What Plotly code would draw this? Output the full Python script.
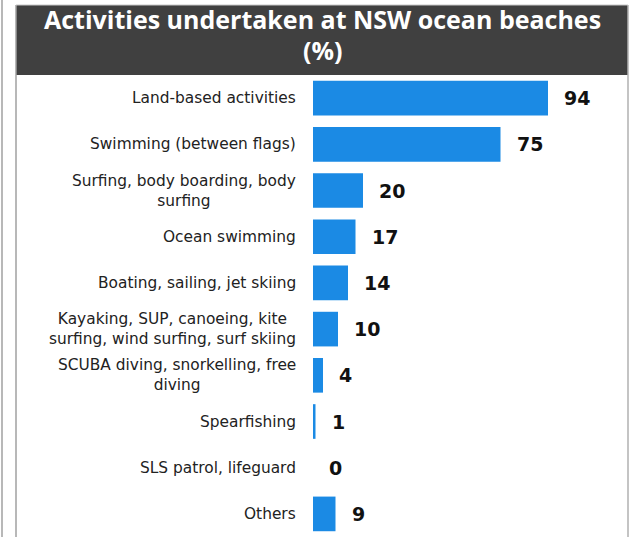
import plotly.graph_objects as go

categories = [
    "Land-based activities",
    "Swimming (between flags)",
    "Surfing, body boarding, body<br>surfing",
    "Ocean swimming",
    "Boating, sailing, jet skiing",
    "Kayaking, SUP, canoeing, kite<br>surfing, wind surfing, surf skiing",
    "SCUBA diving, snorkelling, free<br>diving",
    "Spearfishing",
    "SLS patrol, lifeguard",
    "Others",
]
values = [94, 75, 20, 17, 14, 10, 4, 1, 0, 9]
title_lines = ["Activities undertaken at NSW ocean beaches", "(%)"]

W, H = 641, 537
L, R, T, B = 313, 13, 75, 0
pw, ph = W - L - R, H - T - B

def px_x(p):
    return (p - L) / pw

def px_y(p):
    return (H - B - p) / ph

fig = go.Figure()
fig.add_trace(go.Bar(
    x=values, y=list(range(len(categories))), orientation="h",
    marker=dict(color="#1b8ae4", line=dict(width=0)),
    width=0.75, hoverinfo="skip",
))

annotations = []
for i, (c, v) in enumerate(zip(categories, values)):
    annotations.append(dict(
        x=0, y=i, xref="x", yref="y", text=c, showarrow=False,
        xanchor="right", yanchor="middle", align="center", xshift=-15,
        font=dict(family="DejaVu Sans", size=15.4, color="#222222"),
    ))
    annotations.append(dict(
        x=v, y=i, xref="x", yref="y", text="<b>%d</b>" % v, showarrow=False,
        xanchor="left", yanchor="middle", xshift=14,
        font=dict(family="DejaVu Sans", size=19, color="#111111"),
    ))
for line, ypx in zip(title_lines, [19, 50]):
    annotations.append(dict(
        x=(px_x(16) + px_x(628)) / 2, y=px_y(ypx), xref="paper", yref="paper",
        text="<b>" + line + "</b>", showarrow=False,
        xanchor="center", yanchor="middle", align="center",
        font=dict(family="Open Sans", size=25, color="white"),
    ))

shapes = [
    dict(type="rect", xref="paper", yref="paper",
         x0=px_x(16), x1=px_x(628), y0=px_y(75), y1=px_y(5),
         fillcolor="#404040", line=dict(width=0), layer="below"),
    dict(type="line", xref="paper", yref="paper",
         x0=px_x(16), x1=px_x(16), y0=px_y(5), y1=px_y(540),
         line=dict(color="#a0a0a0", width=1.5)),
    dict(type="line", xref="paper", yref="paper",
         x0=px_x(628), x1=px_x(628), y0=px_y(5), y1=px_y(540),
         line=dict(color="#b0b0b0", width=1.5)),
    dict(type="line", xref="paper", yref="paper",
         x0=px_x(16), x1=px_x(628), y0=px_y(5), y1=px_y(5),
         line=dict(color="#c8c8c8", width=1)),
    dict(type="line", xref="paper", yref="paper",
         x0=px_x(2), x1=px_x(2), y0=px_y(0), y1=px_y(540),
         line=dict(color="#a0a0a0", width=1.5)),
]

fig.update_layout(
    width=W, height=H,
    margin=dict(l=L, r=R, t=T, b=B, pad=0),
    paper_bgcolor="white", plot_bgcolor="white",
    showlegend=False,
    xaxis=dict(range=[0, 126], visible=False, fixedrange=True),
    yaxis=dict(range=[9.5, -0.5], visible=False, fixedrange=True),
    annotations=annotations, shapes=shapes,
)

fig.write_html(
    "out.html",
    config={"displayModeBar": False},
    post_script="document.body.style.margin='0';document.body.style.overflow='hidden';",
)
